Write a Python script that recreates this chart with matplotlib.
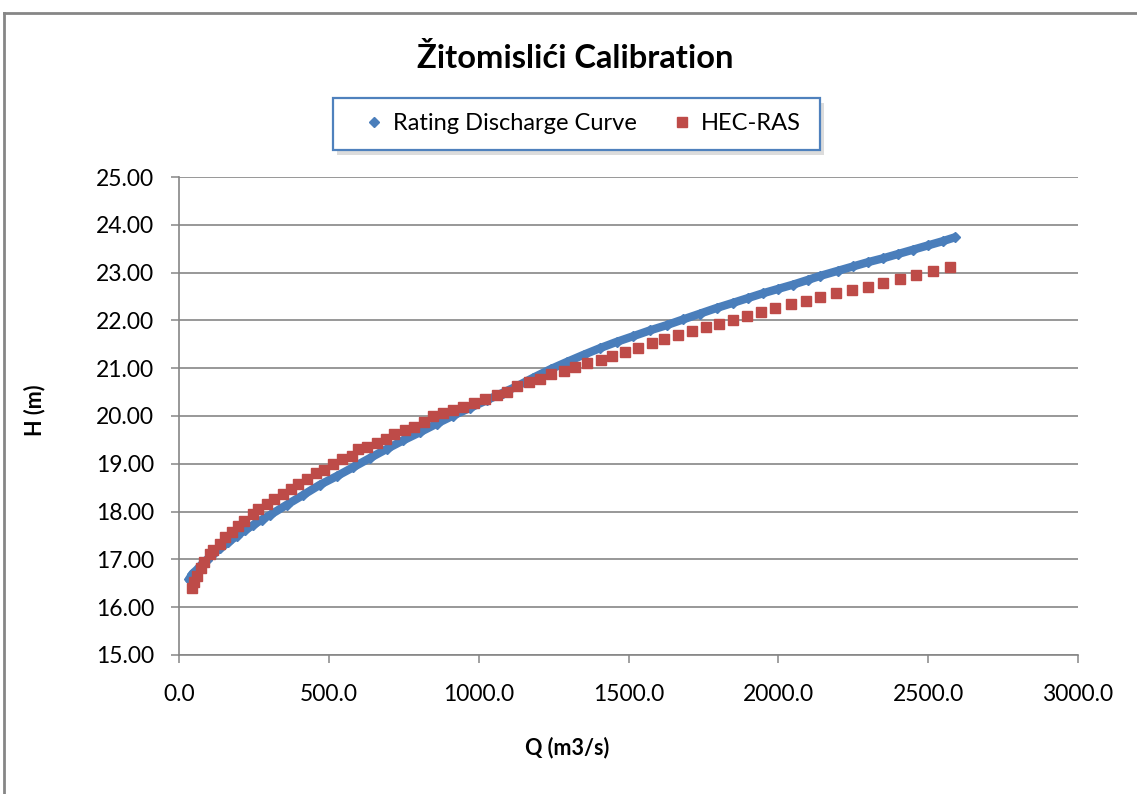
import matplotlib
matplotlib.use("Agg")
import matplotlib.pyplot as plt
from matplotlib.lines import Line2D
from matplotlib.patches import Rectangle
from matplotlib.ticker import FormatStrFormatter

plt.rcParams['font.family'] = ['Lato', 'DejaVu Sans']

# Rating Discharge Curve (Q, H)
rating_q = [33, 45, 59, 75, 92, 115, 137, 165, 192, 220, 248, 276, 304, 359, 415,
            470, 526, 582, 637, 693, 748, 804, 860, 915, 971, 1027, 1082, 1127,
            1182, 1240, 1294, 1350, 1405, 1460, 1516, 1571, 1627, 1682, 1738,
            1794, 1850, 1900, 1950, 2000, 2050, 2100, 2139, 2200, 2250, 2300,
            2350, 2400, 2450, 2500, 2550, 2590]
rating_h = [16.58, 16.70, 16.78, 16.89, 16.99, 17.12, 17.23, 17.36, 17.49, 17.61,
            17.72, 17.83, 17.93, 18.14, 18.35, 18.56, 18.74, 18.93, 19.12, 19.31,
            19.49, 19.66, 19.84, 20.01, 20.17, 20.33, 20.49, 20.62, 20.80, 20.98,
            21.13, 21.28, 21.42, 21.55, 21.67, 21.79, 21.90, 22.02, 22.14, 22.26,
            22.37, 22.47, 22.57, 22.66, 22.75, 22.85, 22.93, 23.04, 23.13, 23.22,
            23.30, 23.39, 23.48, 23.57, 23.66, 23.74]

# HEC-RAS (Q, H)
hec_q = [44, 50, 59, 73, 83, 103, 115, 137, 153, 176, 198, 217, 246, 264, 293, 318,
         346, 374, 398, 426, 456, 484, 515, 545, 576, 598, 628, 660, 690, 717, 754,
         785, 818, 849, 880, 915, 949, 984, 1021, 1060, 1096, 1127, 1168, 1205,
         1240, 1286, 1322, 1360, 1409, 1446, 1488, 1532, 1577, 1619, 1666, 1711,
         1757, 1803, 1850, 1896, 1943, 1989, 2042, 2092, 2139, 2191, 2247, 2300,
         2349, 2407, 2460, 2517, 2574]
hec_h = [16.41, 16.53, 16.66, 16.81, 16.95, 17.11, 17.20, 17.32, 17.47, 17.57,
         17.70, 17.80, 17.96, 18.06, 18.16, 18.26, 18.37, 18.47, 18.58, 18.68,
         18.81, 18.87, 18.99, 19.09, 19.16, 19.30, 19.35, 19.43, 19.51, 19.62,
         19.71, 19.78, 19.87, 20.00, 20.06, 20.13, 20.19, 20.27, 20.35, 20.43,
         20.51, 20.63, 20.71, 20.77, 20.87, 20.95, 21.02, 21.10, 21.17, 21.25,
         21.34, 21.42, 21.53, 21.62, 21.70, 21.78, 21.86, 21.92, 22.01, 22.09,
         22.17, 22.25, 22.34, 22.40, 22.48, 22.57, 22.63, 22.70, 22.78, 22.86,
         22.95, 23.03, 23.11]

x_ticks = [0, 500, 1000, 1500, 2000, 2500, 3000]
y_ticks = [15, 16, 17, 18, 19, 20, 21, 22, 23, 24, 25]

W, H = 1137, 794
fig = plt.figure(figsize=(W / 100, H / 100), dpi=100)
fig.patch.set_facecolor('white')

ax = fig.add_axes([179 / W, 1 - 655 / H, (1078 - 179) / W, (655 - 177) / H])

blue = '#4a7ebb'
red = '#be4b48'
grid = '#868686'

ax.plot(rating_q, rating_h, color=blue, lw=6.0, marker='D', ms=5,
        mec=blue, mfc=blue, zorder=3, solid_capstyle='round',
        label='Rating Discharge Curve')
ax.plot(hec_q, hec_h, ls='none', marker='s', ms=7, color=red, mec=red,
        zorder=4, label='HEC-RAS')

ax.set_xlim(0, 3000)
ax.set_ylim(15, 25)
ax.set_xticks(x_ticks)
ax.set_yticks(y_ticks)
ax.xaxis.set_major_formatter(FormatStrFormatter('%.1f'))
ax.yaxis.set_major_formatter(FormatStrFormatter('%.2f'))
ax.yaxis.grid(True, color=grid, lw=1.2)
ax.set_axisbelow(True)
for s in ['top', 'right']:
    ax.spines[s].set_visible(False)
for s in ['left', 'bottom']:
    ax.spines[s].set_color(grid)
    ax.spines[s].set_linewidth(1.2)
ax.tick_params(axis='both', colors=grid, length=6, width=1.1, labelsize=16.5,
               labelcolor='black')
ax.tick_params(axis='y', pad=12)
ax.tick_params(axis='x', pad=15)

fig.text(575 / W, 1 - 58 / H, 'Žitomislići Calibration', ha='center', va='center',
         fontsize=23.5, fontweight='bold')
fig.text(35 / W, 1 - 410 / H, 'H (m)', ha='center', va='center', rotation=90,
         fontsize=15.5, fontweight='bold')
fig.text(567 / W, 1 - 748 / H, 'Q (m3/s)', ha='center', va='center',
         fontsize=15.5, fontweight='bold')

# legend frame with soft shadow
fig.add_artist(Rectangle((337 / W, 1 - 155 / H), (820 - 333) / W, (150 - 98) / H,
                         transform=fig.transFigure, facecolor='#dcdcdc',
                         edgecolor='none', zorder=5))
fig.add_artist(Rectangle((333 / W, 1 - 150 / H), (820 - 333) / W, (150 - 98) / H,
                         transform=fig.transFigure, facecolor='white',
                         edgecolor='#4f81bd', lw=1.6, zorder=6))
leg = fig.legend(loc='center left', bbox_to_anchor=(365 / W, 1 - 124 / H), ncol=2,
                 fontsize=17, frameon=False, borderpad=0, borderaxespad=0,
                 columnspacing=1.5, handletextpad=0.4, handlelength=0.8)
leg.set_zorder(7)
for h in leg.legend_handles:
    h.set_linestyle('none')
leg.legend_handles[0].set_markersize(5)
leg.legend_handles[1].set_markersize(7)

# outer chart frame (only top/left visible in the crop)
fig.add_artist(Line2D([4 / W, 4 / W], [0, 1 - 13 / H], transform=fig.transFigure,
                      color=grid, lw=2))
fig.add_artist(Line2D([4 / W, 1], [1 - 13 / H, 1 - 13 / H], transform=fig.transFigure,
                      color=grid, lw=2))

fig.savefig('out.png', dpi=100)
